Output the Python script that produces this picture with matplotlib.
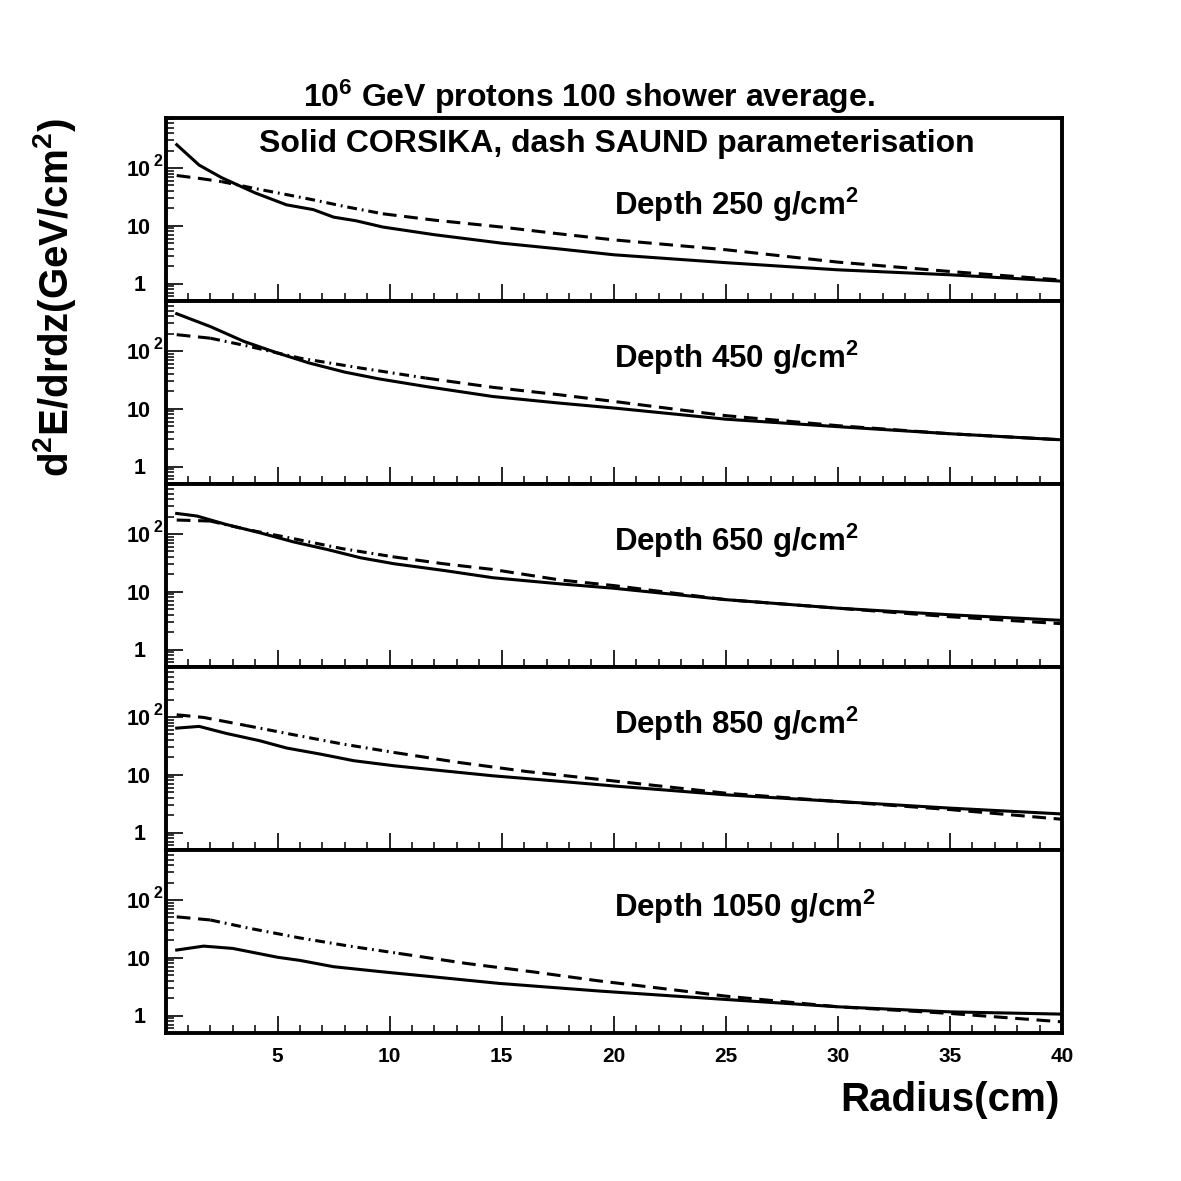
import numpy as np
import matplotlib
matplotlib.use("Agg")
import matplotlib.pyplot as plt
from matplotlib.ticker import FixedLocator, LogLocator, MultipleLocator, NullFormatter

plt.rcParams['font.family'] = ['Liberation Sans', 'DejaVu Sans']
plt.rcParams['font.weight'] = 'bold'
plt.rcParams['mathtext.fontset'] = 'custom'
plt.rcParams['mathtext.rm'] = 'Liberation Sans:bold'
plt.rcParams['mathtext.it'] = 'Liberation Sans:bold'
plt.rcParams['mathtext.bf'] = 'Liberation Sans:bold'

# ---------------- data ----------------
depths = [250, 450, 650, 850, 1050]

# CORSIKA (solid)
r_c250 = [0.5, 1.5, 2.5, 4.0, 5.4, 6.6, 7.5, 8.5, 9.7, 12.0, 15.0, 17.5, 20.0, 25.0, 30.0, 35.0, 40.0]
e_c250 = [252, 112, 68, 37, 23, 19, 14.1, 12.2, 9.5, 7.0, 5.0, 4.0, 3.15, 2.3, 1.73, 1.42, 1.1]
r_c450 = [0.5, 2.0, 3.5, 5.0, 6.4, 8.0, 9.5, 11.6, 14.6, 17.6, 20.0, 25.0, 30.0, 35.0, 40.0]
e_c450 = [440, 264, 146, 92, 62, 43, 33, 24.3, 16.3, 12.5, 10.3, 6.6, 4.9, 3.7, 2.9]
r_c650 = [0.5, 1.4, 2.7, 4.2, 5.7, 7.2, 8.7, 10.2, 12.4, 14.6, 17.6, 20.0, 25.0, 30.0, 35.0, 40.0]
e_c650 = [226, 204, 146, 105, 73, 54, 38.7, 30.5, 23.4, 17.5, 13.7, 11.5, 7.3, 5.2, 4.0, 3.2]
r_c850 = [0.5, 1.5, 2.7, 4.2, 5.4, 6.9, 8.4, 10.2, 12.4, 14.6, 17.6, 20.0, 25.0, 30.0, 35.0, 40.0]
e_c850 = [64, 68.6, 52, 38.8, 29, 22.8, 17.5, 14.3, 11.7, 9.6, 7.7, 6.4, 4.5, 3.45, 2.65, 2.1]
r_c1050 = [0.5, 1.7, 3.0, 5.0, 6.0, 7.5, 9.7, 11.9, 14.9, 19.4, 25.0, 30.0, 35.0, 40.0]
e_c1050 = [13.6, 15.9, 14.5, 10.2, 9.0, 7.0, 5.7, 4.7, 3.6, 2.65, 1.9, 1.42, 1.16, 1.06]

# SAUND parameterisation (dashed)
r_s250 = [0.5, 1.5, 2.5, 4.0, 5.5, 6.6, 8.0, 9.7, 12.0, 15.0, 17.5, 20.0, 25.0, 30.0, 35.0, 40.0]
e_s250 = [74, 66, 58, 44, 34, 28, 21.5, 16.1, 12.5, 9.5, 7.3, 5.7, 3.85, 2.35, 1.62, 1.15]
r_s450 = [0.5, 2.0, 3.6, 6.0, 8.7, 11.6, 14.6, 17.6, 20.0, 25.0, 30.0, 35.0, 40.0]
e_s450 = [191, 166, 123, 75, 50.6, 34, 23.5, 17.4, 13.4, 7.6, 5.1, 3.7, 2.9]
r_s650 = [0.5, 2.0, 3.6, 5.7, 7.9, 10.2, 12.4, 14.6, 17.6, 20.0, 25.0, 30.0, 35.0, 40.0]
e_s650 = [174, 167, 120, 83, 55.5, 40, 30.5, 24.3, 16.0, 12.8, 7.3, 5.2, 3.7, 2.8]
r_s850 = [0.5, 1.7, 3.6, 5.7, 7.9, 10.2, 13.1, 16.1, 19.5, 25.0, 30.0, 35.0, 40.0]
e_s850 = [109, 98, 71, 49.3, 34, 24.3, 16.3, 11.4, 8.2, 4.8, 3.45, 2.5, 1.7]
r_s1050 = [0.5, 2.0, 3.8, 6.0, 8.2, 10.4, 13.4, 16.4, 19.3, 25.0, 30.0, 35.0, 40.0]
e_s1050 = [51, 45, 32, 22, 15.9, 11.9, 8.0, 5.7, 4.0, 2.17, 1.42, 1.09, 0.78]

corsika = [(r_c250, e_c250), (r_c450, e_c450), (r_c650, e_c650), (r_c850, e_c850), (r_c1050, e_c1050)]
saund = [(r_s250, e_s250), (r_s450, e_s450), (r_s650, e_s650), (r_s850, e_s850), (r_s1050, e_s1050)]

x_ticks = [5, 10, 15, 20, 25, 30, 35, 40]
y_ticks = [1, 10, 100]

title_text = r'10$^{6}$ GeV protons 100 shower average.'
subtitle_text = 'Solid CORSIKA, dash SAUND parameterisation'
ylabel_text = r'd$^{2}$E/drdz(GeV/cm$^{2}$)'
xlabel_text = 'Radius(cm)'

# ---------------- figure ----------------
W = 1181.0
fig = plt.figure(figsize=(11.81, 11.81), dpi=100)
left = 165.5 / W
width = (1062.0 - 165.5) / W
top = 1 - 118.0 / W
h = 183.0 / W

lw_frame = 2.8
lw_curve = 2.2

axes = []
for i, d in enumerate(depths):
    ax = fig.add_axes([left, top - (i + 1) * h, width, h])
    axes.append(ax)
    ax.set_yscale('log')
    ax.set_xlim(0, 40)
    ax.set_ylim(0.5, 730)
    for s in ax.spines.values():
        s.set_linewidth(lw_frame)
    ax.xaxis.set_major_locator(FixedLocator(x_ticks))
    ax.xaxis.set_minor_locator(MultipleLocator(1))
    ax.yaxis.set_major_locator(FixedLocator(y_ticks))
    ax.yaxis.set_minor_locator(LogLocator(base=10, subs=np.arange(2, 10), numticks=30))
    ax.yaxis.set_major_formatter(NullFormatter())
    ax.yaxis.set_minor_formatter(NullFormatter())
    ax.tick_params(which='both', direction='in', top=False, right=False,
                   left=True, bottom=True, labelleft=False)
    ax.tick_params(which='major', length=12, width=1.2)
    ax.tick_params(which='minor', length=6, width=1.1)
    if i == len(depths) - 1:
        ax.tick_params(axis='x', which='major', labelsize=15, pad=10)
        ax.set_xticklabels([str(t) for t in x_ticks])
    else:
        ax.tick_params(axis='x', labelbottom=False)

    rc, ec = corsika[i]
    ax.plot(rc, ec, color='black', lw=lw_curve, solid_joinstyle='round')

    rs, es = saund[i]
    rs = np.asarray(rs)
    es = np.asarray(es)
    i0 = int(np.argmax(rs >= 2.0))
    i1 = int(np.argmax(rs >= 9.5))
    ax.plot(rs[:i0 + 1], es[:i0 + 1], color='black', lw=lw_curve, dashes=(4.5, 2.5))
    ax.plot(rs[i0:i1 + 1], es[i0:i1 + 1], color='black', lw=lw_curve,
            dashes=(3.2, 1.6, 0.6, 1.6))
    ax.plot(rs[i1:], es[i1:], color='black', lw=lw_curve, dashes=(4.5, 2.5))

    # y tick labels in ROOT style
    for val, lab in zip(y_ticks, ['1', '10', '10']):
        xr = (146.0 if lab == '1' else 150.5) / W
        ax.annotate(lab, xy=(xr, val), xycoords=(fig.transFigure, ax.transData),
                    xytext=(0, -5.6), textcoords='offset points',
                    ha='right', va='baseline', fontsize=15.5, fontweight='bold',
                    annotation_clip=False)
    ax.annotate('2', xy=(153.0 / W, 100), xycoords=(fig.transFigure, ax.transData),
                xytext=(0, 1.5), textcoords='offset points',
                ha='left', va='baseline', fontsize=11.5, fontweight='bold',
                annotation_clip=False)

    ty = 0.47 if i == 0 else 0.634
    ax.text(20.0, ty, r'Depth %d g/cm$^{2}$' % d,
            transform=matplotlib.transforms.blended_transform_factory(ax.transData, ax.transAxes),
            ha='left', va='baseline', fontsize=22.5, fontweight='bold')

axes[0].text(616.5 / W, 0.814, subtitle_text,
             transform=matplotlib.transforms.blended_transform_factory(fig.transFigure, axes[0].transAxes),
             ha='center', va='baseline', fontsize=23, fontweight='bold')

fig.text(589.0 / W, 1 - 107.0 / W, title_text, ha='center', va='baseline',
         fontsize=23, fontweight='bold')
fig.text(55.0 / W, 1 - 298.0 / W, ylabel_text, rotation=90, ha='center', va='center',
         fontsize=29, fontweight='bold')
fig.text(1060.0 / W, 1 - 1100.0 / W, xlabel_text, ha='right', va='center',
         fontsize=29, fontweight='bold')

fig.savefig('out.png', dpi=100)
